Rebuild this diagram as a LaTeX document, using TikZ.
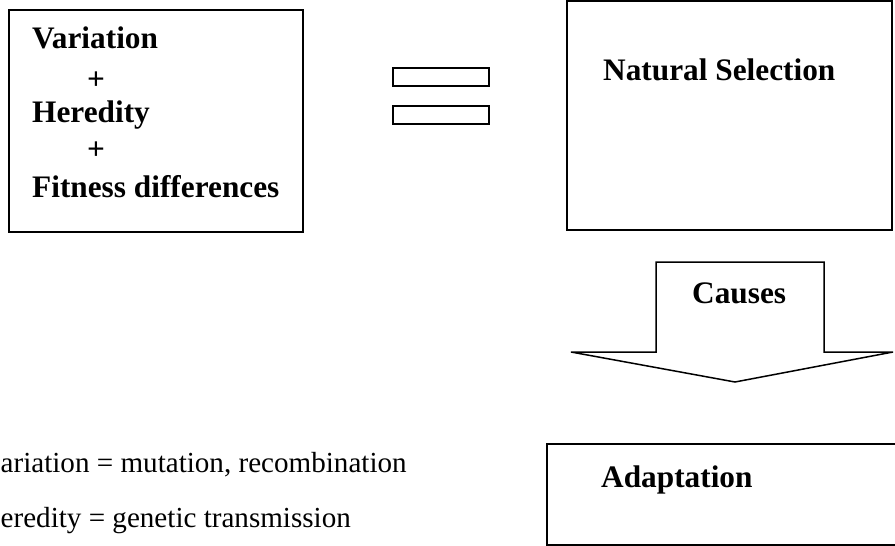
\documentclass[tikz,border=0pt]{standalone}
\usepackage{fontspec}
\setmainfont{Liberation Serif}
\begin{document}
\begin{tikzpicture}[x=1pt,y=-1pt,
  box/.style={draw=black,line width=1.8pt},
  bar/.style={draw=black,line width=1.6pt},
  bigarrow/.style={draw=black,line width=1.5pt,line join=miter},
  btxt/.style={inner sep=0pt,anchor=base west,font=\fontsize{31.3}{37}\selectfont\bfseries},
  rtxt/.style={inner sep=0pt,anchor=base west,font=\fontsize{29.1}{35}\selectfont}]
\useasboundingbox (0,0) rectangle (895,546);
\fill[white] (0,0) rectangle (895,546);
% left box
\draw[box] (9,10) rectangle (303,232);
\node[btxt] (var) at (32,48) {Variation};
\node[btxt] (p1) at (87,89) {+};
\node[btxt] (her) at (32,122) {Heredity};
\node[btxt] (p2) at (87,159) {+};
\node[btxt] (fit) at (32,197) {Fitness differences};
% equals sign
\draw[bar] (393,68) rectangle (489,86);
\draw[bar] (393,106) rectangle (489,124);
% natural selection box
\draw[box] (567,1) rectangle (892,230);
\node[btxt] (ns) at (603,80) {Natural Selection};
% block arrow
\draw[bigarrow] (656,262) -- (824,262) -- (824,352) -- (893,352) -- (735,382) -- (571,352) -- (656,352) -- cycle;
\node[btxt] (causes) at (692,303) {Causes};
% adaptation box
\draw[box] (547,444) rectangle (898,545);
\node[btxt] (adapt) at (601,487) {Adaptation};
% notes (left ends cut off in the reference)
\node[rtxt] (n1) at (0.5,472) {ariation = mutation, recombination};
\node[rtxt] (n2) at (0.5,527) {eredity = genetic transmission};
\end{tikzpicture}
\end{document}
